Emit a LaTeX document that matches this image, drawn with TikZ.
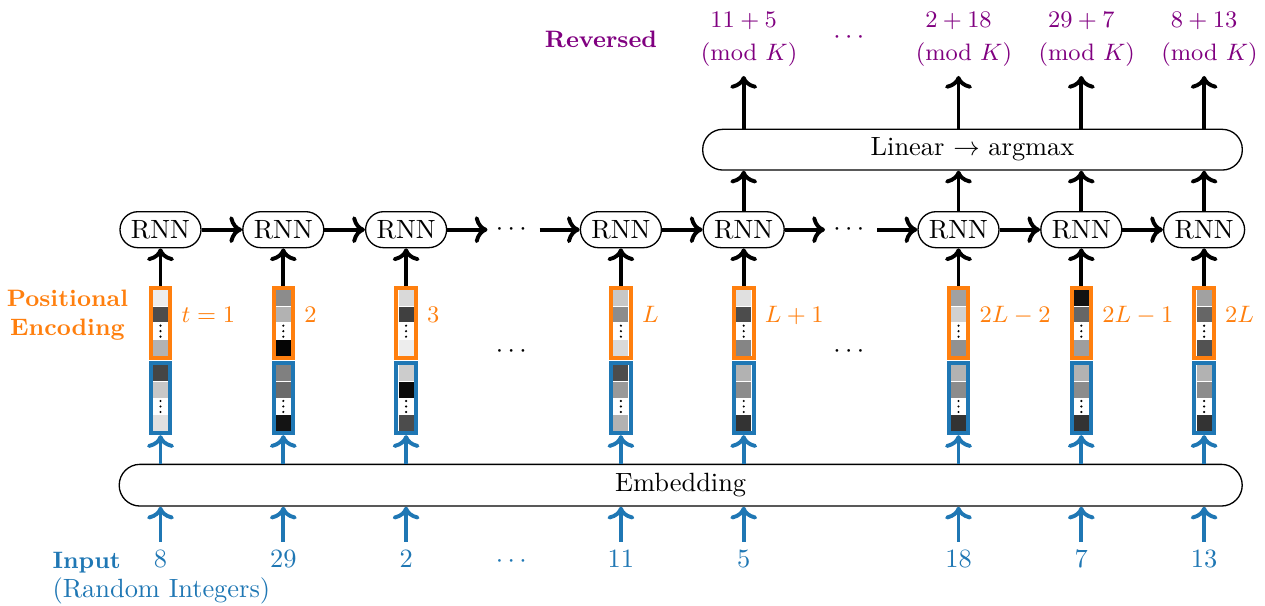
\documentclass[tikz,border=0pt]{standalone}
\usepackage{amsmath}
\usetikzlibrary{arrows.meta}
\definecolor{tabblue}{HTML}{1F77B4}
\definecolor{taborange}{HTML}{FF7F0E}
\definecolor{revpurple}{RGB}{128,0,128}
\newcommand\pxu{0.3788pt}
\newcommand\vcells[5]{%
  \path[cellbox,fill=white!#3!black] (#1-8,#2) rectangle ++(16,16.6);
  \path[cellbox,fill=white!#4!black] (#1-8,#2+16.6) rectangle ++(16,16.6);
  \path[cellbox,fill=white] (#1-8,#2+33.2) rectangle ++(16,16.6);
  \path[cellbox,fill=white!#5!black] (#1-8,#2+49.8) rectangle ++(16,16.6);
  \fill (#1,#2+36) circle[radius=1.2*\pxu];
  \fill (#1,#2+41.5) circle[radius=1.2*\pxu];
  \fill (#1,#2+47) circle[radius=1.2*\pxu];
}
\begin{document}
\begin{tikzpicture}[x=0.3788pt,y=-0.3788pt,
  rnn/.style={draw,line width=0.5pt,rounded corners=18*\pxu,minimum width=81*\pxu,minimum height=36*\pxu,inner sep=0pt},
  widebox/.style={draw,line width=0.5pt,rounded corners=20*\pxu,minimum height=40.7*\pxu,inner sep=0pt},
  vecbox/.style={line width=4*\pxu,minimum width=19.6*\pxu,minimum height=70.3*\pxu,inner sep=0pt},
  cellbox/.style={draw=white,line width=1*\pxu},
  arr/.style={->,line width=3.9*\pxu},
  plab/.style={text=taborange,anchor=base west,font=\small},
  inp/.style={text=tabblue,anchor=base},
  outp/.style={text=revpurple,align=center,anchor=south,font=\small},
  dots/.style={inner sep=1pt}]
\useasboundingbox (0,0) rectangle (1265,606);

% wide boxes
\node[widebox,minimum width=539.6*\pxu] (lin) at (972.5,149.7) {Linear $\rightarrow$ argmax};
\node[widebox,minimum width=1123*\pxu,minimum height=41.7*\pxu,rounded corners=20.8*\pxu] (emb) at (680.7,485.2) {Embedding};

\foreach \i/\cx/\pa/\pb/\pc/\ea/\eb/\ec/\lab/\num in {
 1/160.5/93/30/70/27/78/88/{t=1}/8,
 2/283.3/55/70/2/50/42/8/{2}/29,
 3/406.1/85/25/93/80/4/30/{3}/2,
 4/620.9/78/55/85/30/60/70/{L}/11,
 5/743.7/88/30/52/70/55/20/{L+1}/5,
 6/958.5/63/82/57/70/55/20/{2L-2}/18,
 7/1081.3/7/40/62/70/55/20/{2L-1}/7,
 8/1204.1/63/40/32/70/55/20/{2L}/13}{
  \vcells{\cx}{289.7}{\pa}{\pb}{\pc}
  \vcells{\cx}{365}{\ea}{\eb}{\ec}
  \node[vecbox,draw=taborange] (p\i) at (\cx,322.9) {};
  \node[vecbox,draw=tabblue] (e\i) at (\cx,398) {};
  \node[plab] (l\i) at (p\i.east) {$\lab$};
  \node[rnn] (r\i) at (\cx,229.7) {RNN};
  \node[inp] (in\i) at (\cx,568) {$\num$};
  \draw[arr] (p\i) -- (r\i);
  \draw[arr,tabblue] (emb.north -| e\i) -- (e\i);
  \draw[arr,tabblue] (in\i) -- (in\i |- emb.south);
}

% dots
\coordinate (c1) at (487.5,229.7);
\coordinate (c2) at (539.5,229.7);
\coordinate (c3) at (825,229.7);
\coordinate (c4) at (877,229.7);
\node[dots] (d1) at (513.5,229.7) {$\cdots$};
\node[dots] (d2) at (851,229.7) {$\cdots$};
\node[dots] (d3) at (513.5,352) {$\cdots$};
\node[dots] (d4) at (851,352) {$\cdots$};
\node[inp] (d5) at (513.5,568) {$\cdots$};
\node[dots,text=revpurple] (d6) at (851,38) {$\cdots$};

% horizontal recurrence
\draw[arr] (r1) -- (r2);
\draw[arr] (r2) -- (r3);
\draw[arr] (r3) -- (c1);
\draw[arr] (c2) -- (r4);
\draw[arr] (r4) -- (r5);
\draw[arr] (r5) -- (c3);
\draw[arr] (c4) -- (r6);
\draw[arr] (r6) -- (r7);
\draw[arr] (r7) -- (r8);

% outputs
\node[outp] (o5) at (743.7,76) {$11+5$\\[1.5pt]$\pmod{K}$};
\node[outp] (o6) at (958.5,76) {$2+18$\\[1.5pt]$\pmod{K}$};
\node[outp] (o7) at (1081.3,76) {$29+7$\\[1.5pt]$\pmod{K}$};
\node[outp] (o8) at (1204.1,76) {$8+13$\\[1.5pt]$\pmod{K}$};
\foreach \i in {5,6,7,8}{
  \draw[arr] (r\i) -- (r\i |- lin.south);
  \draw[arr] (lin.north -| o\i) -- (o\i.south);
}

% side labels
\node[anchor=base,font=\small\bfseries,text=revpurple] (rev) at (601,48) {Reversed};
\node[align=center,font=\small\bfseries,text=taborange] (pos) at (67.5,315) {Positional\\Encoding};
\node[anchor=north west,align=left,text=tabblue] (inlab) at (43.2,542.9) {{\small\bfseries Input}\\[-1pt](Random Integers)};
\end{tikzpicture}
\end{document}
